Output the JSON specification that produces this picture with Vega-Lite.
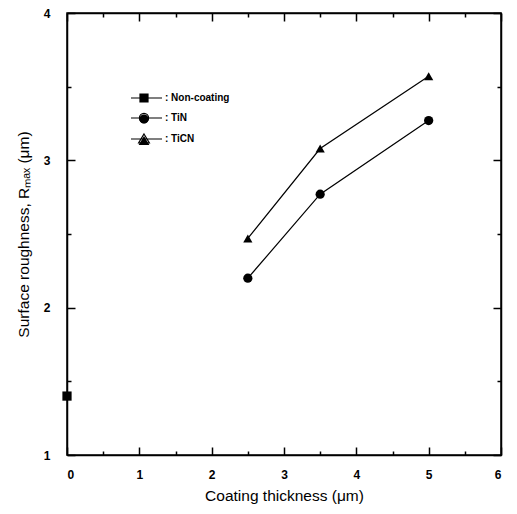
{
  "$schema": "https://vega.github.io/schema/vega-lite/v6.json",
  "autosize": "none",
  "width": 434,
  "height": 442,
  "padding": {"left": 67, "top": 13, "right": 16, "bottom": 59},
  "background": "white",
  "config": {
    "view": {"stroke": "black", "strokeWidth": 1.5},
    "font": "Liberation Sans"
  },
  "data": {
    "values": [
      {"series": "Non-coating", "x": 0, "y": 1.4},
      {"series": "TiN", "x": 2.5, "y": 2.2},
      {"series": "TiN", "x": 3.5, "y": 2.77},
      {"series": "TiN", "x": 5, "y": 3.27},
      {"series": "TiCN", "x": 2.5, "y": 2.47},
      {"series": "TiCN", "x": 3.5, "y": 3.08},
      {"series": "TiCN", "x": 5, "y": 3.57}
    ]
  },
  "resolve": {"scale": {"shape": "independent"}, "axis": {"x": "independent", "y": "independent"}},
  "layer": [
    {
      "mark": {"type": "line", "color": "black", "strokeWidth": 1.2},
      "encoding": {
        "x": {"field": "x", "type": "quantitative", "scale": {"domain": [0, 6], "nice": false, "zero": false},
          "axis": {"orient": "bottom", "title": "Coating thickness (μm)", "values": [0,1,2,3,4,5,6], "format": "d",
            "tickSize": -8, "tickColor": "black", "tickWidth": 1.5, "domainColor": "black", "domainWidth": 1.5, "grid": false,
            "labelFont": "Liberation Sans", "labelFontSize": 12, "labelFontWeight": "bold", "labelColor": "black", "labelPadding": 22,
            "titleFont": "Liberation Sans", "titleFontSize": 15.5, "titleFontWeight": "normal", "titleColor": "black", "titlePadding": 8}},
        "y": {"field": "y", "type": "quantitative", "scale": {"domain": [1, 4], "nice": false, "zero": false},
          "axis": {"orient": "left", "title": "Surface roughness, Rₘₐₓ  (μm)", "values": [1,2,3,4], "format": "d",
            "tickSize": -8, "tickColor": "black", "tickWidth": 1.5, "domainColor": "black", "domainWidth": 1.5, "grid": false,
            "labelFont": "Liberation Sans", "labelFontSize": 12, "labelFontWeight": "bold", "labelColor": "black", "labelPadding": 25,
            "titleFont": "Liberation Sans", "titleFontSize": 15.5, "titleFontWeight": "normal", "titleColor": "black", "titlePadding": 12}},
        "detail": {"field": "series"}
      }
    },
    {
      "mark": {"type": "point", "filled": true, "color": "black", "opacity": 1, "size": 85},
      "encoding": {
        "x": {"field": "x", "type": "quantitative",
          "axis": {"orient": "bottom", "title": null, "values": [0.5,1.5,2.5,3.5,4.5,5.5], "labels": false, "domain": false,
            "tickSize": -4, "tickColor": "black", "tickWidth": 1.5, "grid": false}},
        "y": {"field": "y", "type": "quantitative",
          "axis": {"orient": "left", "title": null, "values": [1.5,2.5,3.5], "labels": false, "domain": false,
            "tickSize": -4, "tickColor": "black", "tickWidth": 1.5, "grid": false}},
        "shape": {"field": "series", "type": "nominal", "legend": null,
          "scale": {"domain": ["Non-coating", "TiN", "TiCN"], "range": ["square", "circle", "triangle-up"]}}
      }
    },
    {
      "mark": {"type": "point", "filled": false, "color": "black", "strokeWidth": 1.2, "opacity": 0, "size": 64},
      "encoding": {
        "x": {"field": "x", "type": "quantitative",
          "axis": {"orient": "top", "title": null, "values": [0,1,2,3,4,5,6], "labels": false,
            "tickSize": -8, "tickColor": "black", "tickWidth": 1.5, "domainColor": "black", "domainWidth": 1.5, "grid": false}},
        "y": {"field": "y", "type": "quantitative",
          "axis": {"orient": "right", "title": null, "values": [1,2,3,4], "labels": false,
            "tickSize": -8, "tickColor": "black", "tickWidth": 1.5, "domainColor": "black", "domainWidth": 1.5, "grid": false}},
        "shape": {"field": "series", "type": "nominal",
          "scale": {"domain": ["Non-coating", "TiN", "TiCN"],
            "range": ["M-3.25,0L4.5,0M-1,-1L1,-1L1,1L-1,1Z", "M-3.25,0L4.5,0M-1.15,0A1.15,1.15 0 1,0 1.15,0A1.15,1.15 0 1,0 -1.15,0Z", "M-3.25,0L4.5,0M0,-1.25L1.35,1L-1.35,1Z"]},
          "legend": {"orient": "none", "legendX": 72, "legendY": 80, "title": null, "padding": 0,
            "symbolSize": 64, "symbolOpacity": 1, "symbolStrokeColor": "black", "symbolStrokeWidth": 1.2,
            "labelExpr": "': ' + datum.label", "labelOffset": 16, "labelFont": "Liberation Sans", "labelFontSize": 10, "labelFontWeight": "bold", "labelColor": "black",
            "rowPadding": 6}}
      }
    },
    {
      "mark": {"type": "point", "filled": true, "color": "black", "opacity": 0, "size": 64},
      "encoding": {
        "x": {"field": "x", "type": "quantitative",
          "axis": {"orient": "top", "title": null, "values": [0.5,1.5,2.5,3.5,4.5,5.5], "labels": false, "domain": false,
            "tickSize": -4, "tickColor": "black", "tickWidth": 1.5, "grid": false}},
        "y": {"field": "y", "type": "quantitative",
          "axis": {"orient": "right", "title": null, "values": [1.5,2.5,3.5], "labels": false, "domain": false,
            "tickSize": -4, "tickColor": "black", "tickWidth": 1.5, "grid": false}},
        "shape": {"field": "series", "type": "nominal",
          "scale": {"domain": ["Non-coating", "TiN", "TiCN"],
            "range": ["M-1,-1L1,-1L1,1L-1,1Z", "M-1.15,0A1.15,1.15 0 1,0 1.15,0A1.15,1.15 0 1,0 -1.15,0Z", "M0,-1.25L1.35,1L-1.35,1Z"]},
          "legend": {"orient": "none", "legendX": 72, "legendY": 80, "title": null, "padding": 0,
            "symbolSize": 64, "symbolOpacity": 1, "symbolFillColor": "black",
            "labelExpr": "' '", "labelOffset": 16, "labelFont": "Liberation Sans", "labelFontSize": 10, "labelFontWeight": "bold", "labelColor": "black", "labelOpacity": 0,
            "rowPadding": 6}}
      }
    }
  ]
}
